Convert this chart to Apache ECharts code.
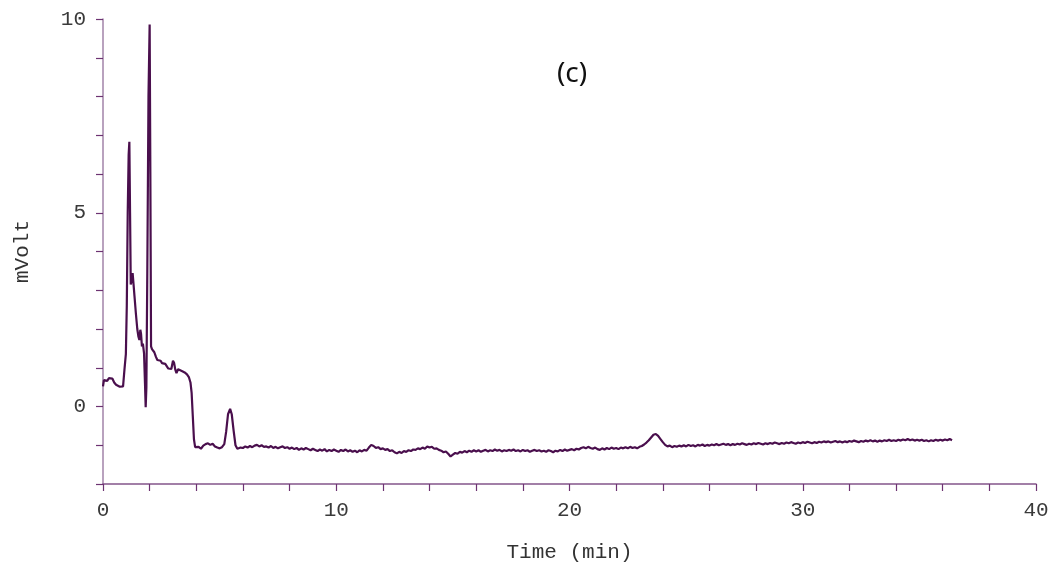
<!DOCTYPE html>
<html>
<head>
<meta charset="utf-8">
<script src="https://cdn.jsdelivr.net/npm/echarts@6/dist/echarts.min.js"></script>
<style>
html,body{margin:0;padding:0;background:#fff;}
#chart{width:1056px;height:569px;}
</style>
</head>
<body>
<div id="chart"></div>
<script>
// Data
const panelLabel = "(c)";
const xAxisName = "Time (min)";
const yAxisName = "mVolt";
const xTickLabels = [0, 10, 20, 30, 40];
const yTickLabels = [0, 5, 10];

// Early part (peaks), explicit times
const earlyTime = [
0.00,0.04,0.10,0.18,0.25,0.32,0.40,0.48,0.56,0.64,0.72,0.80,0.86,0.92,0.98,1.02,1.06,1.10,1.13,1.16,
1.19,1.23,1.27,1.31,1.35,1.41,1.47,1.52,1.56,1.60,1.63,1.67,1.71,1.76,1.80,1.83,1.86,1.90,1.95,2.00,
2.03,2.06,2.10,2.14,2.20,2.27,2.33,2.40,2.47,2.53,2.60,2.67,2.73,2.80,2.87,2.93,3.00,3.05,3.10,3.15,
3.22,3.30,3.40,3.50,3.60,3.68,3.75,3.80,3.85,3.90,3.95,4.00,
4.1,4.2,4.3,4.4,4.5,4.6,4.7,4.8,4.9,5.0,5.1,5.2,5.28,5.36,5.45,5.52,5.6,5.68,5.76,5.9
];
const earlyMv = [
0.52,0.68,0.72,0.66,0.73,0.69,0.72,0.62,0.56,0.57,0.51,0.47,0.52,0.95,1.35,2.6,5.0,6.5,6.83,5.0,
3.15,3.25,3.44,3.15,2.85,2.4,2.0,1.8,1.72,1.98,1.88,1.55,1.62,1.37,0.6,-0.02,0.5,3.5,8.0,9.86,
6.0,1.55,1.48,1.52,1.40,1.28,1.20,1.15,1.18,1.12,1.15,1.10,1.05,0.98,0.93,0.97,1.18,1.12,0.95,0.86,
0.96,0.93,0.91,0.88,0.83,0.76,0.62,0.35,-0.25,-0.85,-1.05,-1.08,
-1.04,-1.09,-1.01,-0.97,-0.95,-0.99,-0.96,-1.03,-1.06,-1.08,-1.05,-0.97,-0.65,-0.2,-0.06,-0.2,-0.62,-1.0,-1.09,-1.06
];

// Baseline part, sampled every 0.1 min from 6.0 min (one row per minute)
const baselineStartMin = 6.0;
const baselineStepMin = 0.1;
const baselineMv = [
-1.07,-1.03,-1.06,-1.02,-1.05,-1.01,-0.99,-1.03,-1.00,-1.04,
-1.03,-1.06,-1.02,-1.07,-1.04,-1.08,-1.05,-1.03,-1.07,-1.05,
-1.09,-1.06,-1.10,-1.07,-1.12,-1.08,-1.11,-1.07,-1.10,-1.13,
-1.09,-1.12,-1.15,-1.11,-1.14,-1.10,-1.16,-1.12,-1.15,-1.11,
-1.14,-1.17,-1.12,-1.15,-1.11,-1.16,-1.13,-1.17,-1.14,-1.18,
-1.13,-1.16,-1.12,-1.14,-1.06,-0.99,-1.02,-1.07,-1.05,-1.10,
-1.08,-1.12,-1.10,-1.15,-1.13,-1.18,-1.21,-1.17,-1.20,-1.15,
-1.17,-1.13,-1.15,-1.11,-1.12,-1.08,-1.10,-1.06,-1.09,-1.03,
-1.06,-1.04,-1.09,-1.08,-1.12,-1.14,-1.18,-1.16,-1.22,-1.29,
-1.24,-1.20,-1.22,-1.17,-1.19,-1.15,-1.18,-1.14,-1.17,-1.13,
-1.16,-1.13,-1.17,-1.14,-1.12,-1.16,-1.13,-1.15,-1.11,-1.14,
-1.12,-1.16,-1.13,-1.15,-1.12,-1.14,-1.11,-1.15,-1.13,-1.16,
-1.12,-1.15,-1.13,-1.17,-1.14,-1.12,-1.15,-1.13,-1.16,-1.14,
-1.17,-1.13,-1.15,-1.18,-1.14,-1.16,-1.12,-1.15,-1.11,-1.14,
-1.12,-1.10,-1.13,-1.09,-1.11,-1.07,-1.05,-1.08,-1.04,-1.07,
-1.09,-1.06,-1.10,-1.12,-1.08,-1.11,-1.07,-1.10,-1.06,-1.09,
-1.07,-1.10,-1.06,-1.08,-1.05,-1.08,-1.04,-1.07,-1.05,-1.08,
-1.04,-1.02,-0.98,-0.93,-0.87,-0.80,-0.73,-0.71,-0.76,-0.84,
-0.92,-0.99,-1.03,-1.01,-1.05,-1.02,-1.04,-1.01,-1.03,-1.00,
-1.03,-0.99,-1.02,-1.00,-1.03,-0.99,-1.01,-0.98,-1.02,-0.99,
-1.01,-0.98,-1.00,-0.97,-1.00,-0.98,-0.96,-0.99,-0.97,-1.00,
-0.97,-0.99,-0.96,-0.98,-0.95,-0.97,-0.99,-0.96,-0.98,-0.95,
-0.97,-0.94,-0.96,-0.98,-0.95,-0.97,-0.94,-0.96,-0.93,-0.95,
-0.97,-0.94,-0.96,-0.93,-0.95,-0.92,-0.94,-0.96,-0.93,-0.95,
-0.92,-0.94,-0.91,-0.93,-0.95,-0.92,-0.94,-0.91,-0.93,-0.90,
-0.92,-0.90,-0.93,-0.91,-0.89,-0.92,-0.90,-0.93,-0.90,-0.92,
-0.89,-0.91,-0.88,-0.90,-0.92,-0.89,-0.91,-0.88,-0.90,-0.87,
-0.90,-0.88,-0.91,-0.88,-0.90,-0.87,-0.89,-0.86,-0.89,-0.87,
-0.89,-0.86,-0.88,-0.85,-0.87,-0.84,-0.87,-0.85,-0.88,-0.86,
-0.88,-0.86,-0.89,-0.87,-0.90,-0.87,-0.89,-0.86,-0.88,-0.86,
-0.88,-0.85,-0.87,-0.84,-0.87
];

const seriesData = earlyTime.map((t, i) => [t, earlyMv[i]]).concat(
  baselineMv.map((v, i) => [+(baselineStartMin + i * baselineStepMin).toFixed(2), v])
);

const monoFont = '"Liberation Mono", "DejaVu Sans Mono", monospace';
const chart = echarts.init(document.getElementById('chart'), null, {renderer: 'canvas'});
chart.setOption({
  animation: false,
  backgroundColor: '#ffffff',
  grid: {left: 103, right: 20, top: 19, bottom: 85, containLabel: false},
  xAxis: {
    type: 'value', min: 0, max: 40, interval: 2,
    name: xAxisName, nameLocation: 'middle', nameGap: 58,
    nameTextStyle: {fontFamily: monoFont, fontSize: 21, color: '#333'},
    axisLine: {show: true, onZero: false, lineStyle: {color: '#84568a', width: 1.5}},
    axisTick: {show: true, inside: false, length: 7, lineStyle: {color: '#6d3372', width: 1.2}},
    axisLabel: {
      margin: 16, fontFamily: monoFont, fontSize: 21, color: '#3a3a3a',
      formatter: v => xTickLabels.includes(v) ? String(v) : ''
    },
    splitLine: {show: false}
  },
  yAxis: {
    type: 'value', min: -2, max: 10, interval: 1,
    name: yAxisName, nameLocation: 'middle', nameGap: 70, nameRotate: 90,
    nameTextStyle: {fontFamily: monoFont, fontSize: 21, color: '#333'},
    axisLine: {show: true, onZero: false, lineStyle: {color: '#a283a8', width: 1.5}},
    axisTick: {show: true, inside: false, length: 7, lineStyle: {color: '#6d3372', width: 1.2}},
    axisLabel: {
      margin: 17, fontFamily: monoFont, fontSize: 21, color: '#3a3a3a',
      formatter: v => yTickLabels.includes(v) ? String(v) : ''
    },
    splitLine: {show: false}
  },
  graphic: [{
    type: 'text',
    style: {
      text: panelLabel, x: 572, y: 74, textAlign: 'center', textVerticalAlign: 'middle',
      font: '28px "Noto Sans", "Open Sans", sans-serif', fill: '#111'
    }
  }],
  series: [{
    type: 'line',
    data: seriesData,
    showSymbol: false,
    smooth: false,
    lineStyle: {color: '#4a0f4d', width: 2.2},
    itemStyle: {color: '#4a0f4d'}
  }]
});
</script>
</body>
</html>
